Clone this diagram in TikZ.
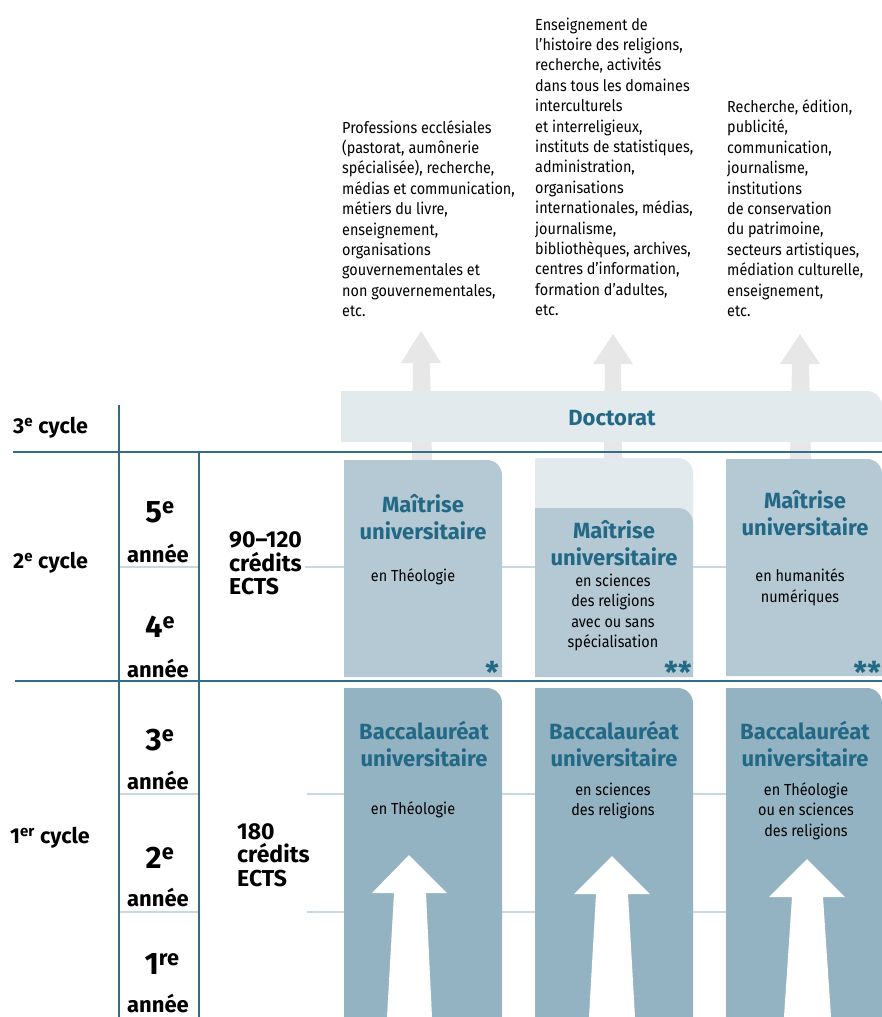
\documentclass[tikz,border=0pt]{standalone}
\usepackage{fontspec}
\setmainfont{Fira Sans}
\newfontfamily\condfont{Fira Sans}[FakeStretch=0.9]
\definecolor{cText}{HTML}{236985}
\definecolor{cLine}{HTML}{2F6D88}
\definecolor{cMaster}{HTML}{B4C9D4}
\definecolor{cBach}{HTML}{93B3C2}
\definecolor{cPale}{HTML}{E2EAEE}
\definecolor{cGrey}{HTML}{E7E7E7}
\definecolor{cThin}{HTML}{C7D8E0}
\newcommand\RoundTR[5]{\fill[#1] (#2,#5) -- (#2,#3) -- ({#4-15},#3) .. controls ({#4-6.7},#3) and (#4,{#3+6.7}) .. (#4,{#3+15}) -- (#4,#5) -- cycle;}
\begin{document}
\begin{tikzpicture}[x=1pt,y=-1pt,
  body/.style={font=\condfont\fontsize{16}{20.4}\selectfont, inner sep=0pt, align=left, anchor=north west},
  titletxt/.style={font=\bfseries\fontsize{22}{27}\selectfont, text=cText, inner sep=0pt, align=center},
  subtxt/.style={font=\condfont\fontsize{16}{20.6}\selectfont, inner sep=0pt, align=center},
  cyc/.style={font=\bfseries\fontsize{21.5}{24}\selectfont, inner sep=0pt, anchor=west},
  yearnum/.style={font=\bfseries\fontsize{31}{34}\selectfont, inner sep=0pt},
  yearlab/.style={font=\bfseries\fontsize{22}{24}\selectfont, inner sep=0pt},
  credit/.style={font=\bfseries\fontsize{23}{23.5}\selectfont, inner sep=0pt, align=left, anchor=west},
  startxt/.style={font=\bfseries\fontsize{30}{30}\selectfont, text=cText, inner sep=0pt},
  darkline/.style={draw=cLine, line width=1.6pt},
  thinline/.style={draw=cThin, line width=1.8pt}]
\useasboundingbox (0,0) rectangle (882,1017);

% career texts
\node[body] (jobs1) at (342,120) {Professions ecclésiales\\(pastorat, aumônerie\\spécialisée), recherche,\\médias et communication,\\métiers du livre,\\enseignement,\\organisations\\gouvernementales et\\non gouvernementales,\\etc.};
\node[body] (jobs2) at (535,17.5) {Enseignement de\\l’histoire des religions,\\recherche, activités\\dans tous les domaines\\interculturels\\et interreligieux,\\instituts de statistiques,\\administration,\\organisations\\internationales, médias,\\journalisme,\\bibliothèques, archives,\\centres d’information,\\formation d’adultes,\\etc.};
\node[body] (jobs3) at (727,99.5) {Recherche, édition,\\publicité,\\communication,\\journalisme,\\institutions\\de conservation\\du patrimoine,\\secteurs artistiques,\\médiation culturelle,\\enseignement,\\etc.};

% grey arrows
\fill[cGrey] (421,331) -- (441,363) -- (430,363) -- (432,460) -- (412,460) -- (413,363) -- (401,363) -- cycle;
\fill[cGrey] (613,334) -- (633,364) -- (621,364) -- (622,458) -- (604,458) -- (605,364) -- (593,364) -- cycle;
\fill[cGrey] (800,334) -- (820,364) -- (809,364) -- (811,459) -- (790,459) -- (792,364) -- (780,364) -- cycle;

% doctorat band
\RoundTR{cPale}{341}{391}{882}{442}
\node[titletxt] (doc) at (612,418) {Doctorat};

% grid lines
\draw[thinline] (119,567) -- (199,567);
\draw[thinline] (305,567) -- (882,567);
\draw[thinline] (119,794) -- (199,794);
\draw[thinline] (307,794) -- (882,794);
\draw[thinline] (119,912) -- (199,912);
\draw[thinline] (307,912) -- (882,912);
\draw[darkline] (13,452) -- (882,452);
\draw[darkline] (15,681) -- (882,681);
\draw[darkline] (119,405) -- (119,1017);
\draw[darkline] (199,452) -- (199,1017);

% master boxes
\RoundTR{cMaster}{344}{460}{502}{677}
\RoundTR{cPale}{535}{458}{693}{677}
\RoundTR{cMaster}{535}{508}{693}{677}
\RoundTR{cMaster}{726}{459}{882}{676}
\node[titletxt] (m1) at (423,517.5) {Maîtrise\\universitaire};
\node[subtxt] (m1s) at (413,577) {en Théologie};
\node[titletxt] (m2) at (614,543.5) {Maîtrise\\universitaire};
\node[subtxt] (m2s) at (613,612.5) {en sciences\\des religions\\avec ou sans\\spécialisation};
\node[titletxt] (m3) at (805,513.5) {Maîtrise\\universitaire};
\node[subtxt] (m3s) at (800,587) {en humanités\\numériques};
\node[startxt] (s1) at (492,672) {*};
\node[startxt] (s2) at (678,672) {**};
\node[startxt, anchor=east] (s3) at (881,672) {**};

% bachelor boxes
\RoundTR{cBach}{344}{688}{502}{1017}
\RoundTR{cBach}{535}{688}{693}{1017}
\RoundTR{cBach}{726}{688}{882}{1017}
\node[titletxt] (b1) at (424,744) {Baccalauréat\\universitaire};
\node[subtxt] (b1s) at (413,810) {en Théologie};
\node[titletxt] (b2) at (614,744) {Baccalauréat\\universitaire};
\node[subtxt] (b2s) at (613,801) {en sciences\\des religions};
\node[titletxt] (b3) at (805,744) {Baccalauréat\\universitaire};
\node[subtxt] (b3s) at (806,811) {en Théologie\\ou en sciences\\des religions};

% white arrows
\fill[white] (409,855) -- (447,893) -- (426,893) -- (432,1017) -- (387,1017) -- (394,893) -- (372,893) -- cycle;
\fill[white] (612,856) -- (650,894) -- (628,894) -- (635,1017) -- (589,1017) -- (596,894) -- (574,894) -- cycle;
\fill[white] (807,859) -- (845,897) -- (823,897) -- (831,1017) -- (784,1017) -- (792,897) -- (769,897) -- cycle;

% left labels
\node[cyc] (c3) at (13,428) {3\textsuperscript{e} cycle};
\node[cyc] (c2) at (13,563) {2\textsuperscript{e} cycle};
\node[cyc] (c1) at (10,838) {1\textsuperscript{er} cycle};

\node[yearnum] (y5) at (160,512) {5\textsuperscript{e}};
\node[yearlab] (y5l) at (158,553) {année};
\node[yearnum] (y4) at (160,627) {4\textsuperscript{e}};
\node[yearlab] (y4l) at (158,668) {année};
\node[yearnum] (y3) at (160,740) {3\textsuperscript{e}};
\node[yearlab] (y3l) at (158,780) {année};
\node[yearnum] (y2) at (160,858) {2\textsuperscript{e}};
\node[yearlab] (y2l) at (158,897) {année};
\node[yearnum] (y1) at (162,964) {1\textsuperscript{re}};
\node[yearlab] (y1l) at (158,1003) {année};

\node[credit] (cr2) at (229,563.5) {90–120\\crédits\\ECTS};
\node[credit] (cr1) at (237,855) {180\\crédits\\ECTS};
\end{tikzpicture}
\end{document}
